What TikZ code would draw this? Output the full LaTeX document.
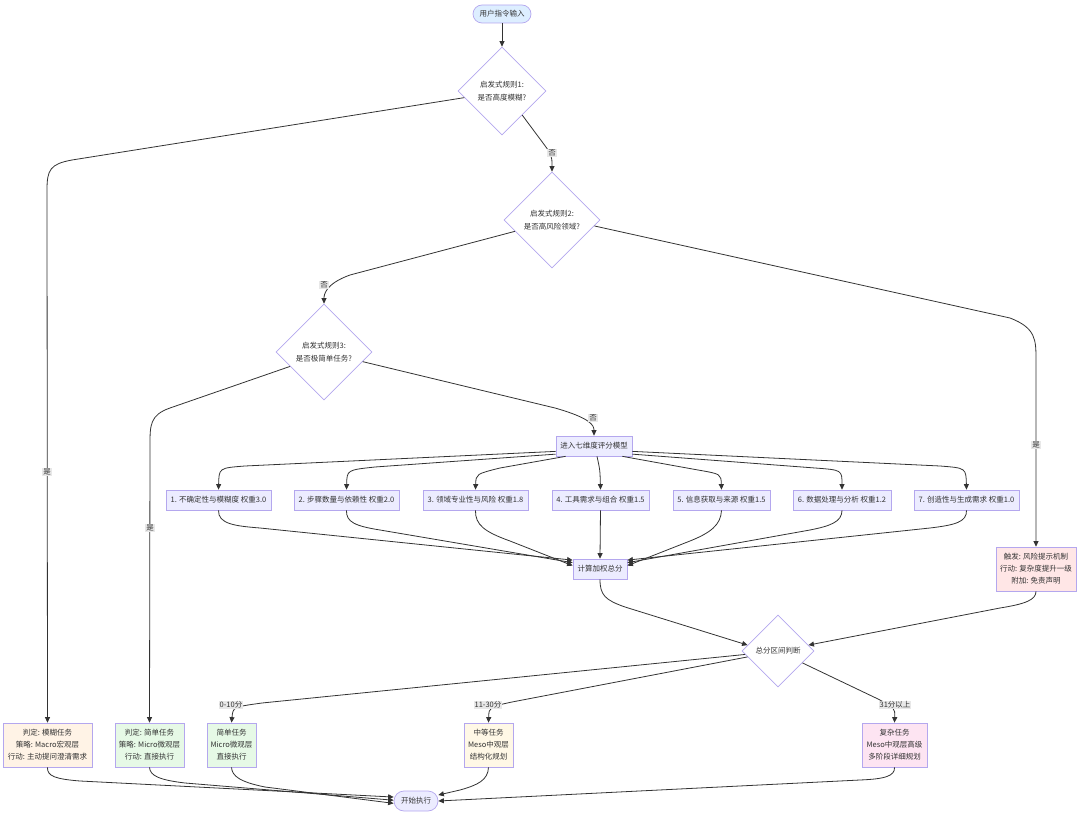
\documentclass[tikz,border=0pt]{standalone}
\usepackage{fontspec}
\setmainfont{Noto Sans CJK SC}
\usetikzlibrary{arrows.meta,shapes.geometric,calc}
\definecolor{txt}{HTML}{333333}
\definecolor{bd}{HTML}{B4A7EE}
\definecolor{boxfill}{HTML}{ECECFF}
\definecolor{startfill}{HTML}{DDEEFF}
\definecolor{orangefill}{HTML}{FFF3E6}
\definecolor{greenfill}{HTML}{E6F9E6}
\definecolor{yellowfill}{HTML}{FFF8E6}
\definecolor{pinkfill}{HTML}{FDE4F2}
\definecolor{redfill}{HTML}{FFE6E6}
\definecolor{lblbg}{HTML}{E8E8E8}
\definecolor{edgec}{HTML}{333333}
\tikzset{
  every node/.style={font=\fontsize{7.5}{12}\selectfont, text=txt},
  box/.style={draw=bd, line width=0.7pt, fill=boxfill, inner sep=0pt, minimum height=20pt, align=center},
  tallbox/.style={box, minimum height=44pt},
  pill/.style={box, rounded corners=9pt},
  dec/.style={diamond, aspect=1, draw=bd, line width=0.7pt, fill=white, inner sep=0pt, align=center, font=\fontsize{7.5}{13.5}\selectfont},
  edge/.style={draw=edgec, line width=0.8pt, -{Triangle[length=5.5pt,width=5pt]}},
  lbl/.style={fill=lblbg, inner sep=1pt, font=\fontsize{7.5}{9}\selectfont}
}
\begin{document}
\begin{tikzpicture}[x=1pt,y=-1pt]
\useasboundingbox (0,0) rectangle (1080,813);
% nodes
\node[pill, fill=startfill, minimum width=58pt, minimum height=18pt] (start) at (502,14) {用户指令输入};
\node[dec, minimum width=88pt, minimum height=88pt] (d1) at (502,91) {启发式规则1:\\是否高度模糊?};
\node[dec, minimum width=96pt, minimum height=96pt] (d2) at (552,220) {启发式规则2:\\是否高风险领域?};
\node[dec, minimum width=96pt, minimum height=96pt] (d3) at (324,352) {启发式规则3:\\是否极简单任务?};
\node[box, minimum width=76pt] (jinru) at (594,446) {进入七维度评分模型};
\node[box, minimum width=105pt] (b1) at (218.5,500) {1. 不确定性与模糊度 权重3.0};
\node[box, minimum width=105pt] (b2) at (346.5,500) {2. 步骤数量与依赖性 权重2.0};
\node[box, minimum width=105pt] (b3) at (475.5,500) {3. 领域专业性与风险 权重1.8};
\node[box, minimum width=97pt] (b4) at (600.5,500) {4. 工具需求与组合 权重1.5};
\node[box, minimum width=97pt] (b5) at (721.5,500) {5. 信息获取与来源 权重1.5};
\node[box, minimum width=98pt] (b6) at (842,500) {6. 数据处理与分析 权重1.2};
\node[box, minimum width=105pt] (b7) at (966.5,500) {7. 创造性与生成需求 权重1.0};
\node[box, minimum width=54pt] (jisuan) at (600,569) {计算加权总分};
\node[tallbox, fill=redfill, minimum width=80pt] (risk) at (1036,569) {触发: 风险提示机制\\行动: 复杂度提升一级\\附加: 免责声明};
\node[dec, minimum width=72pt, minimum height=72pt] (d4) at (778,651) {总分区间判断};
\node[tallbox, fill=orangefill, minimum width=89pt] (mohu) at (47.5,745) {判定: 模糊任务\\策略: Macro宏观层\\行动: 主动提问澄清需求};
\node[tallbox, fill=greenfill, minimum width=69pt] (jd1) at (149.5,745) {判定: 简单任务\\策略: Micro微观层\\行动: 直接执行};
\node[tallbox, fill=greenfill, minimum width=49pt] (jd2) at (231.5,745) {简单任务\\Micro微观层\\直接执行};
\node[tallbox, fill=yellowfill, minimum width=49pt] (med) at (488.5,745) {中等任务\\Meso中观层\\结构化规划};
\node[tallbox, fill=pinkfill, minimum width=65pt] (comp) at (894.5,745) {复杂任务\\Meso中观层高级\\多阶段详细规划};
\node[box, rounded corners=10pt, minimum width=44pt] (kaishi) at (416,801) {开始执行};
% edges
\draw[edge] (start) -- (d1);
\draw[edge] (d1.190) -- (72,160) .. controls (50,164) and (47,170) .. (47,190) -- (mohu.north);
\draw[edge] (d1.-50) -- (540,139) .. controls (552,155) .. (d2.north);
\draw[edge] (d2.197) -- (350,275) .. controls (325,284) and (324,295) .. (d3.north);
\draw[edge] (d2.-8) -- (1010,318) .. controls (1036,328) and (1036,340) .. (1036,360) -- (risk.north);
\draw[edge] (d3.203) -- (170,408) .. controls (150,415) and (150,425) .. (150,445) -- (jd1.north);
\draw[edge] (d3.-14) -- (555,408) .. controls (590,418) and (594,425) .. (jinru.north);
\draw[edge] (jinru.188) -- (245,466) .. controls (219,468) .. (b1.north);
\draw[edge] (jinru.192) -- (375,467) .. controls (347,470) .. (b2.north);
\draw[edge] (jinru.200) -- (500,468) .. controls (476,474) .. (b3.north);
\draw[edge] ($(jinru.south)+(3,0)$) .. controls (600,470) .. (b4.north);
\draw[edge] (jinru.-20) -- (698,470) .. controls (721,474) .. (b5.north);
\draw[edge] (jinru.-12) -- (815,468) .. controls (842,470) .. (b6.north);
\draw[edge] (jinru.-8) -- (940,466) .. controls (966,468) .. (b7.north);
\draw[edge] (b1.south) .. controls (218,524) and (235,526) .. (260,528) -- (jisuan.162);
\draw[edge] (b2.south) .. controls (346,522) and (355,526) .. (380,530) -- (jisuan.167);
\draw[edge] (b3.south) .. controls (475,525) and (485,532) .. (510,541) -- (jisuan.173);
\draw[edge] (b4.south) -- (jisuan.north);
\draw[edge] (b5.south) .. controls (721,525) and (710,533) .. (690,541) -- (jisuan.7);
\draw[edge] (b6.south) .. controls (842,522) and (830,526) .. (810,530) -- (jisuan.13);
\draw[edge] (b7.south) .. controls (967,522) and (955,525) .. (930,528) -- (jisuan.18);
\draw[edge] (jisuan.south) .. controls (600,595) and (605,600) .. (625,607) -- (d4.169);
\draw[edge] (risk.south) .. controls (1036,600) and (1025,604) .. (1000,608) -- (d4.11);
\draw[edge] (d4.186) -- (262,703) .. controls (233,707) .. (jd2.north);
\draw[edge] (d4.191) -- (512,702) .. controls (489,707) .. (med.north);
\draw[edge] (d4.-26) -- (878,699) .. controls (895,708) .. (comp.north);
\draw[edge] (mohu.south) .. controls (47,776) and (55,779) .. (80,781) -- (kaishi.170);
\draw[edge] (jd1.south) .. controls (150,776) and (160,780) .. (185,783) -- (kaishi.178);
\draw[edge] (jd2.south) .. controls (232,776) and (240,782) .. (265,787) -- (kaishi.186);
\draw[edge] (med.south) .. controls (488,780) and (478,785) .. (460,790) -- (kaishi.15);
\draw[edge] (comp.south) .. controls (895,776) and (885,779) .. (860,780) -- (kaishi.0);
% edge labels
\node[lbl] (l1) at (47,472) {是};
\node[lbl] (l2) at (552,153) {否};
\node[lbl] (l3) at (324,285) {否};
\node[lbl] (l4) at (1036,445) {是};
\node[lbl] (l5) at (150,528) {是};
\node[lbl] (l6) at (593,418) {否};
\node[lbl] (l7) at (231,705) {0-10分};
\node[lbl] (l8) at (488,705) {11-30分};
\node[lbl] (l9) at (895,705) {31分以上};
\end{tikzpicture}
\end{document}
